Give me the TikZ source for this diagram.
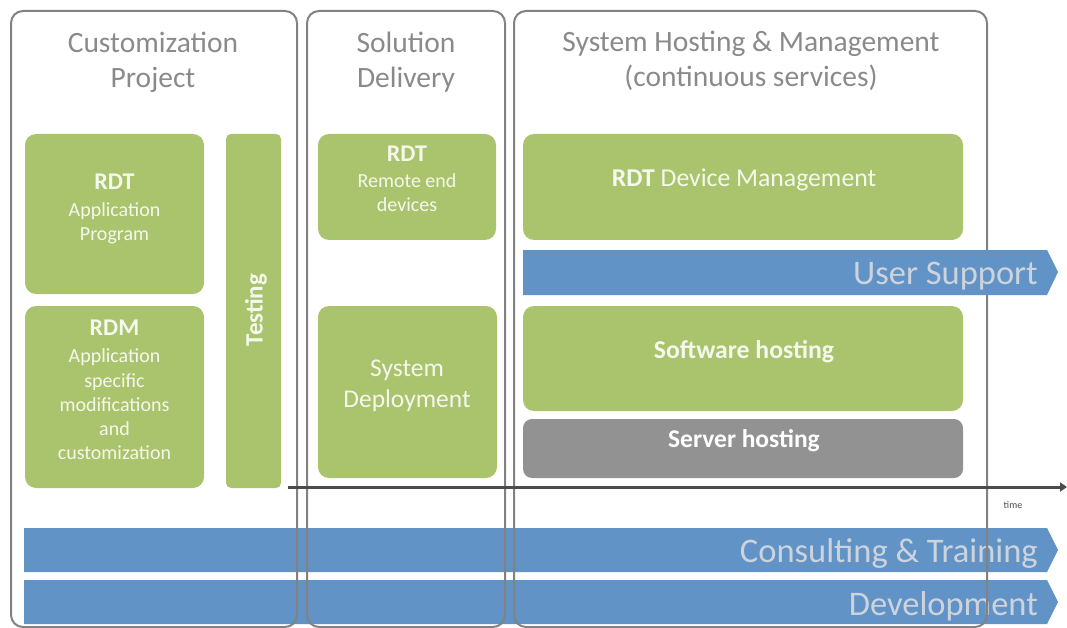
\documentclass[tikz,border=0pt]{standalone}
\usepackage{fontspec}
\setmainfont{Carlito}
\usetikzlibrary{arrows.meta}

\definecolor{leaf}{RGB}{170,196,110}
\definecolor{sky}{RGB}{97,147,199}
\definecolor{framegray}{RGB}{130,130,130}
\definecolor{titlegray}{RGB}{138,138,138}
\definecolor{slate}{RGB}{146,146,146}
\definecolor{bartext}{RGB}{205,211,220}
\definecolor{axisgray}{RGB}{75,75,75}
\definecolor{leaftext}{RGB}{245,248,236}

\newcommand{\fs}[2]{\fontsize{#1}{#2}\selectfont}

\tikzset{
  phase/.style={draw=framegray, line width=2pt, rounded corners=12pt},
  phasetitle/.style={text=titlegray, align=center, font=\fs{29.5}{35}, inner sep=0pt},
  greenbox/.style={fill=leaf, rounded corners=11pt},
  greytile/.style={fill=slate, rounded corners=9pt},
  tiletext/.style={text=leaftext, align=center, inner sep=0pt, font=\fs{20}{24.2}},
  bar/.style={fill=sky},
  bartitle/.style={text=bartext, inner sep=0pt, anchor=east, font=\fs{34.5}{40}},
  timeline/.style={draw=axisgray, line width=3pt, -{Triangle[length=7pt,width=9pt]}},
}

\begin{document}
\begin{tikzpicture}[x=1pt,y=-1pt]
\useasboundingbox (0,0) rectangle (1067,628);

% --- tiles of the customization project
\path[greenbox] (25,134) rectangle (204,294);
\node[tiletext] (apptext) at (114.5,209) {{\fs{24}{24}\bfseries RDT}\\[3pt]Application\\Program};
\path[greenbox] (25,306) rectangle (204,488);
\node[tiletext] (rdmtext) at (114.5,390) {{\fs{24}{24}\bfseries RDM}\\[3pt]Application\\specific\\modifications\\and\\customization};
\path[greenbox, rounded corners=5pt] (226,134) rectangle (281,488);
\node[tiletext, rotate=90, font=\fs{25}{25}\bfseries] (testtext) at (256,310) {Testing};

% --- tiles of the solution delivery
\path[greenbox] (318,134) rectangle (496,240);
\node[tiletext] (devtext) at (407,179) {{\fs{24}{24}\bfseries RDT}\\[2pt]Remote end\\devices};
\path[greenbox] (318,306) rectangle (497,478);
\node[tiletext, font=\fs{25.5}{31}] (deploytext) at (407,386) {System\\Deployment};

% --- tiles of hosting and management
\path[greenbox] (523,134) rectangle (963,240);
\node[tiletext, font=\fs{25.7}{30}] (mgmttext) at (744,180) {\textbf{RDT} Device Management};
\path[greenbox] (523,306) rectangle (963,411);
\node[tiletext, font=\fs{25.7}{30}\bfseries] (swtext) at (744,352) {Software hosting};
\path[greytile] (523,419) rectangle (963,478);
\node[tiletext, font=\fs{25.5}{30}\bfseries, text=white] (srvtext) at (744,441) {Server hosting};

% --- continuous service bands along the bottom
\path[bar] (24,528) -- (1047,528) -- (1058,550) -- (1047,572) -- (24,572) -- cycle;
\node[bartitle] (consult) at (1038,553) {Consulting \& Training};
\path[bar] (24,580) -- (1047,580) -- (1058,602) -- (1047,624) -- (24,624) -- cycle;
\node[bartitle] (develop) at (1038,606) {Development};

% --- phase frames
\draw[phase] (11,11) rectangle (297,627);
\draw[phase] (307,11) rectangle (505,627);
\draw[phase] (514,11) rectangle (987,627);
\node[phasetitle] (t1) at (153,62) {Customization\\Project};
\node[phasetitle] (t2) at (406,62) {Solution\\Delivery};
\node[phasetitle] (t3) at (751,61) {System Hosting \& Management\\(continuous services)};

% --- user support band, laid over the hosting frame
\path[bar] (523,250) -- (1047,250) -- (1058,272) -- (1047,295) -- (523,295) -- cycle;
\node[bartitle] (support) at (1038,276) {User Support};

% --- time axis
\coordinate (tstart) at (288,487);
\coordinate (tend) at (1067,487);
\draw[timeline] (tstart) -- (tend);
\node[text=axisgray, font=\fs{10}{10}, inner sep=0pt] (timelabel) at (1013,505) {time};
\end{tikzpicture}
\end{document}
